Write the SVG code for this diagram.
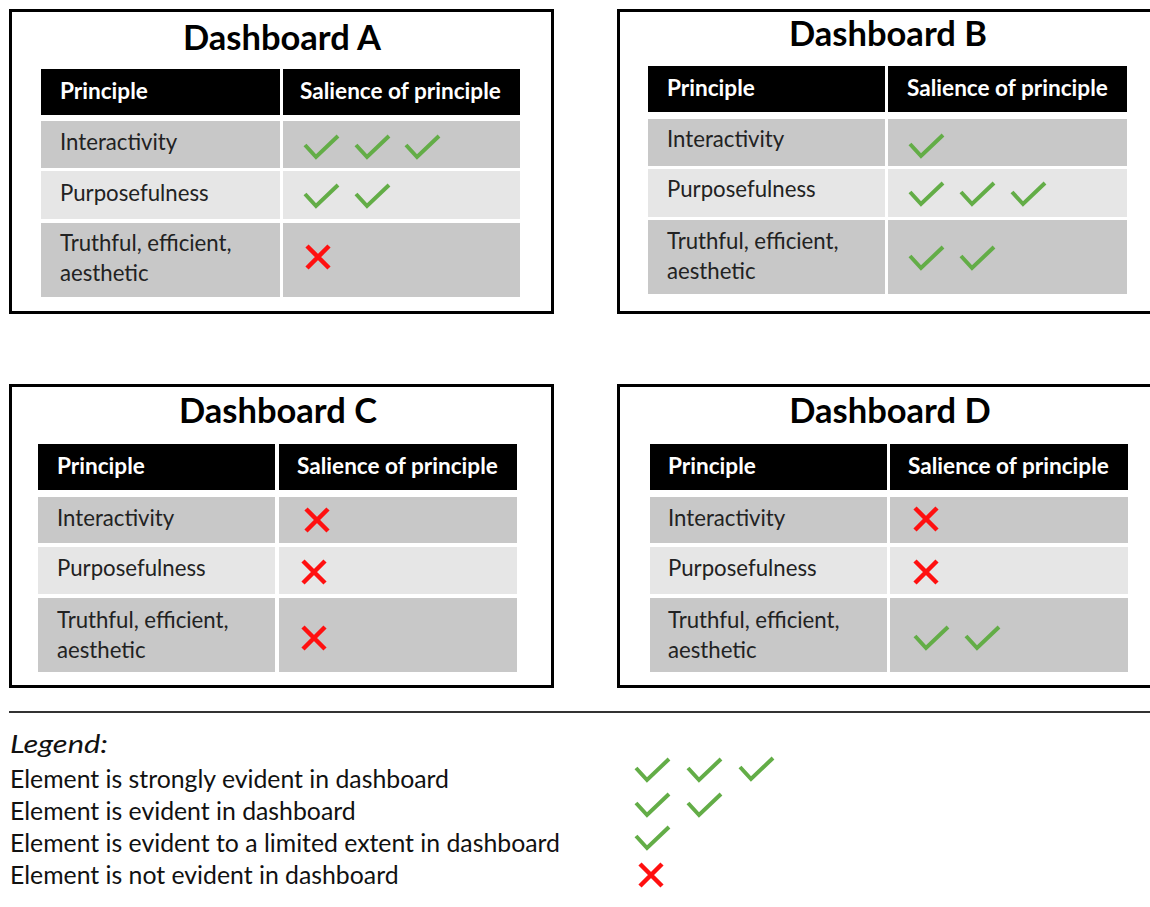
<svg xmlns="http://www.w3.org/2000/svg" width="1150" height="907" viewBox="0 0 1150 907">
<style>
.box{fill:#fff;stroke:#000;stroke-width:3}
.title{font-family:Lato,"Liberation Sans",sans-serif;font-weight:bold;font-size:34.5px;fill:#000;text-anchor:middle}
.hd{fill:#000}
.dk{fill:#c8c8c8}
.lt{fill:#e6e6e6}
.ht{font-family:Lato,"Liberation Sans",sans-serif;font-weight:bold;font-size:22.6px;fill:#fff}
.bt{font-family:Lato,"Liberation Sans",sans-serif;font-size:22.2px;fill:#222}
.lg{font-family:Lato,"Liberation Sans",sans-serif;font-size:24.8px;fill:#111}
.chk{fill:none;stroke:#63ad47;stroke-width:4}
.crs{fill:none;stroke:#ff1010;stroke-width:4.5}
</style>
<defs>
<path id="ck" class="chk" d="M1,10 L12,22 L34,1"/>
<path id="xx" class="crs" d="M-11,-11 L11,11 M11,-11 L-11,11"/>
</defs>
<rect width="1150" height="907" fill="#fff"/>

<g id="dashboard-a">
<rect class="box" x="10.5" y="10.5" width="542" height="302"/>
<text class="title" x="282" y="50">Dashboard A</text>
<rect class="hd" x="41" y="69" width="239" height="46"/>
<rect class="hd" x="283" y="69" width="237" height="46"/>
<rect class="dk" x="41" y="121" width="239" height="47"/>
<rect class="dk" x="283" y="121" width="237" height="47"/>
<rect class="lt" x="41" y="171" width="239" height="48"/>
<rect class="lt" x="283" y="171" width="237" height="48"/>
<rect class="dk" x="41" y="223" width="239" height="74"/>
<rect class="dk" x="283" y="223" width="237" height="74"/>
<text class="ht" x="60" y="99">Principle</text>
<text class="ht" x="300" y="99">Salience of principle</text>
<text class="bt" x="60" y="150">Interactivity</text>
<text class="bt" x="60" y="201">Purposefulness</text>
<text class="bt" x="60" y="251">Truthful, efficient,</text>
<text class="bt" x="60" y="281">aesthetic</text>
<use href="#ck" x="304" y="135"/>
<use href="#ck" x="355" y="135"/>
<use href="#ck" x="405" y="135"/>
<use href="#ck" x="304" y="184"/>
<use href="#ck" x="355" y="184"/>
<use href="#xx" x="318" y="257"/>
</g>

<g id="dashboard-b">
<rect class="box" x="618.5" y="10.5" width="540" height="302"/>
<text class="title" x="888" y="46">Dashboard B</text>
<rect class="hd" x="648" y="66" width="237" height="46"/>
<rect class="hd" x="888" y="66" width="239" height="46"/>
<rect class="dk" x="648" y="119" width="237" height="47"/>
<rect class="dk" x="888" y="119" width="239" height="47"/>
<rect class="lt" x="648" y="169" width="237" height="48"/>
<rect class="lt" x="888" y="169" width="239" height="48"/>
<rect class="dk" x="648" y="220" width="237" height="74"/>
<rect class="dk" x="888" y="220" width="239" height="74"/>
<text class="ht" x="667" y="96">Principle</text>
<text class="ht" x="907" y="96">Salience of principle</text>
<text class="bt" x="667" y="147">Interactivity</text>
<text class="bt" x="667" y="197">Purposefulness</text>
<text class="bt" x="667" y="249">Truthful, efficient,</text>
<text class="bt" x="667" y="279">aesthetic</text>
<use href="#ck" x="909" y="134"/>
<use href="#ck" x="909" y="182"/>
<use href="#ck" x="960" y="182"/>
<use href="#ck" x="1011" y="182"/>
<use href="#ck" x="909" y="246"/>
<use href="#ck" x="960" y="246"/>
</g>

<g id="dashboard-c">
<rect class="box" x="10.5" y="385.5" width="542" height="301"/>
<text class="title" x="278" y="423">Dashboard C</text>
<rect class="hd" x="38" y="444" width="237" height="46"/>
<rect class="hd" x="279" y="444" width="238" height="46"/>
<rect class="dk" x="38" y="497" width="237" height="46"/>
<rect class="dk" x="279" y="497" width="238" height="46"/>
<rect class="lt" x="38" y="547" width="237" height="47"/>
<rect class="lt" x="279" y="547" width="238" height="47"/>
<rect class="dk" x="38" y="598" width="237" height="74"/>
<rect class="dk" x="279" y="598" width="238" height="74"/>
<text class="ht" x="57" y="474">Principle</text>
<text class="ht" x="297" y="474">Salience of principle</text>
<text class="bt" x="57" y="526">Interactivity</text>
<text class="bt" x="57" y="576">Purposefulness</text>
<text class="bt" x="57" y="628">Truthful, efficient,</text>
<text class="bt" x="57" y="658">aesthetic</text>
<use href="#xx" x="317" y="520"/>
<use href="#xx" x="314" y="572"/>
<use href="#xx" x="314" y="638"/>
</g>

<g id="dashboard-d">
<rect class="box" x="618.5" y="385.5" width="540" height="301"/>
<text class="title" x="890" y="423">Dashboard D</text>
<rect class="hd" x="650" y="444" width="237" height="46"/>
<rect class="hd" x="890" y="444" width="238" height="46"/>
<rect class="dk" x="650" y="497" width="237" height="46"/>
<rect class="dk" x="890" y="497" width="238" height="46"/>
<rect class="lt" x="650" y="547" width="237" height="47"/>
<rect class="lt" x="890" y="547" width="238" height="47"/>
<rect class="dk" x="650" y="598" width="237" height="74"/>
<rect class="dk" x="890" y="598" width="238" height="74"/>
<text class="ht" x="668" y="474">Principle</text>
<text class="ht" x="908" y="474">Salience of principle</text>
<text class="bt" x="668" y="526">Interactivity</text>
<text class="bt" x="668" y="576">Purposefulness</text>
<text class="bt" x="668" y="628">Truthful, efficient,</text>
<text class="bt" x="668" y="658">aesthetic</text>
<use href="#xx" x="926" y="519"/>
<use href="#xx" x="926" y="572"/>
<use href="#ck" x="914" y="626"/>
<use href="#ck" x="965" y="626"/>
</g>

<g id="legend">
<line x1="9" y1="712" x2="1150" y2="712" stroke="#333" stroke-width="2"/>
<text class="lg" x="10" y="753" font-style="italic" font-size="26" textLength="98" lengthAdjust="spacingAndGlyphs">Legend:</text>
<text class="lg" x="10" y="788">Element is strongly evident in dashboard</text>
<text class="lg" x="10" y="820">Element is evident in dashboard</text>
<text class="lg" x="10" y="852">Element is evident to a limited extent in dashboard</text>
<text class="lg" x="10" y="884">Element is not evident in dashboard</text>
<use href="#ck" x="635" y="758"/>
<use href="#ck" x="687" y="758"/>
<use href="#ck" x="739" y="757"/>
<use href="#ck" x="635" y="793"/>
<use href="#ck" x="687" y="793"/>
<use href="#ck" x="635" y="826"/>
<use href="#xx" x="651" y="875"/>
</g>
</svg>
